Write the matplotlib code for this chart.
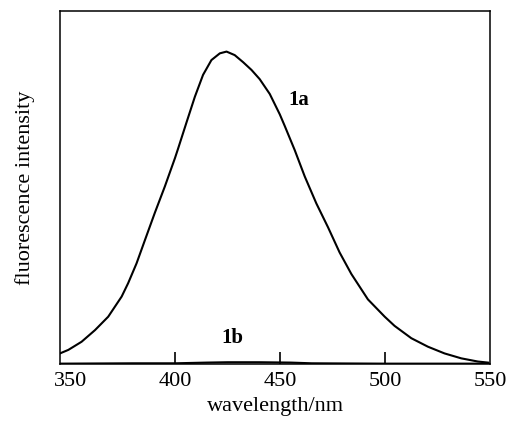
import matplotlib
matplotlib.use('Agg')
import matplotlib.pyplot as plt
from matplotlib.ticker import FixedLocator

plt.rcParams['font.family'] = ['Liberation Serif', 'DejaVu Serif']

# emission spectrum of 1a (arbitrary units)
wl_1a = [345.0, 349.0, 355.3, 361.7, 368.0, 374.4, 377.5, 381.5, 385.5, 390.2,
         395.0, 399.8, 401.3, 405.3, 409.3, 413.2, 417.2, 421.2, 424.4, 428.3,
         432.3, 436.3, 440.2, 445.0, 449.8, 452.1, 456.9, 461.7, 467.2, 472.8,
         478.3, 483.9, 491.8, 499.8, 504.5, 512.5, 520.4, 528.3, 536.3, 544.2,
         549.0]
int_1a = [0.030, 0.040, 0.063, 0.096, 0.134, 0.191, 0.229, 0.285, 0.351, 0.428,
          0.503, 0.583, 0.610, 0.684, 0.757, 0.819, 0.861, 0.880, 0.885, 0.875,
          0.855, 0.833, 0.807, 0.765, 0.707, 0.675, 0.606, 0.531, 0.455, 0.387,
          0.316, 0.255, 0.183, 0.134, 0.108, 0.073, 0.049, 0.030, 0.016, 0.007,
          0.004]

# 1b is almost flat
wl_1b = [345, 380, 400, 415, 425, 440, 455, 465, 500, 550]
int_1b = [0.001, 0.002, 0.002, 0.004, 0.005, 0.005, 0.004, 0.002, 0.001, 0.001]

tick_labels = [350, 400, 450, 500, 550]
inner_ticks = [400, 450, 500]

fig = plt.figure(figsize=(5.1, 4.21), dpi=100)
ax = fig.add_axes([0.1176, 0.1354, 0.8432, 0.8385])

ax.plot(wl_1a, int_1a, color='black', lw=1.5, solid_joinstyle='round')
ax.plot(wl_1b, int_1b, color='black', lw=1.5)

ax.text(459, 0.748, '1a', fontsize=15, fontweight='bold', ha='center', va='center')
ax.text(427, 0.074, '1b', fontsize=15, fontweight='bold', ha='center', va='center')

ax.set_xlim(345, 550)
ax.set_ylim(0, 1)
ax.set_xticks(tick_labels)
ax.set_xticklabels([str(t) for t in tick_labels], fontsize=16)
ax.xaxis.set_minor_locator(FixedLocator(inner_ticks))
ax.xaxis.remove_overlapping_locs = False
ax.tick_params(axis='x', which='major', length=0, pad=6)
ax.tick_params(axis='x', which='minor', direction='in', length=9, width=1.2)
ax.set_yticks([])

for s in ax.spines.values():
    s.set_linewidth(1.1)

ax.set_xlabel('wavelength/nm', fontsize=16, labelpad=4)
ax.set_ylabel('fluorescence intensity', fontsize=16, labelpad=18)

fig.savefig('out.png', dpi=100)
